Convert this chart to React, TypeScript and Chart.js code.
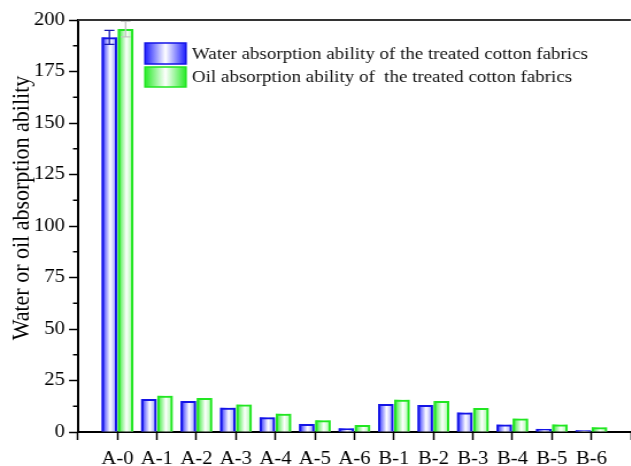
import { useEffect, useRef } from 'react';
import { Chart, registerables } from 'chart.js';

Chart.register(...registerables);

// Sample names along the x axis
const categories = ['A-0', 'A-1', 'A-2', 'A-3', 'A-4', 'A-5', 'A-6', 'B-1', 'B-2', 'B-3', 'B-4', 'B-5', 'B-6'];

// Absorption ability of each treated fabric
const waterValues = [191.6, 16.0, 15.0, 11.8, 7.1, 3.9, 1.8, 13.6, 13.1, 9.5, 3.6, 1.5, 0.8];
const oilValues = [195.6, 17.6, 16.5, 13.3, 8.9, 5.7, 3.4, 15.7, 15.0, 11.6, 6.5, 3.7, 2.3];

// Standard deviations (only the untreated sample shows a visible spread)
const waterErrors = [3.4, 0, 0, 0, 0, 0, 0, 0, 0, 0, 0, 0, 0];
const oilErrors = [3.8, 0, 0, 0, 0, 0, 0, 0, 0, 0, 0, 0, 0];

const seriesLabels = [
  'Water absorption ability of the treated cotton fabrics',
  'Oil absorption ability of  the treated cotton fabrics',
];
const yAxisTitle = 'Water or oil absorption ability';
const yMin = 0;
const yMax = 200;
const yStep = 25;

const SERIF = '"Liberation Serif", "Times New Roman", serif';

// The figure is drawn on a narrower canvas and widened by CSS,
// which gives the horizontally stretched look of the printed figure.
const STRETCH = 1.15;
const VIEW_W = 640;
const VIEW_H = 466;
const CANVAS_W = Math.round(VIEW_W / STRETCH);
const sx = (v: number) => (v * CANVAS_W) / VIEW_W;

const seriesStyles = [
  { edge: 'rgb(30,30,255)', far: 'rgb(140,140,255)', border: '#1414e6', err: '#1a1ab0' },
  { edge: 'rgb(40,235,40)', far: 'rgb(150,250,150)', border: '#22e622', err: '#c4c4c4' },
];

const errorSets = [waterErrors, oilErrors];
const valueSets = [waterValues, oilValues];

const decorPlugin = {
  id: 'decor',
  beforeDatasetsDraw(chart: any) {
    const ctx = chart.ctx;
    chart.data.datasets.forEach((_ds: any, di: number) => {
      const meta = chart.getDatasetMeta(di);
      const st = seriesStyles[di];
      meta.data.forEach((el: any) => {
        const { x, y, base, width } = el.getProps(['x', 'y', 'base', 'width'], true);
        const left = x - width / 2;
        const g = ctx.createLinearGradient(left, 0, left + width, 0);
        g.addColorStop(0, st.edge);
        g.addColorStop(0.55, '#ffffff');
        g.addColorStop(1, st.far);
        ctx.save();
        ctx.fillStyle = g;
        ctx.fillRect(left, Math.min(y, base), width, Math.abs(base - y));
        ctx.restore();
      });
    });
  },
  afterDatasetsDraw(chart: any) {
    const ctx = chart.ctx;
    const yScale = chart.scales.y;
    const cap = sx(5);
    chart.data.datasets.forEach((_ds: any, di: number) => {
      const meta = chart.getDatasetMeta(di);
      const errs = errorSets[di];
      const vals = valueSets[di];
      meta.data.forEach((el: any, i: number) => {
        const e = errs[i];
        if (!e) return;
        const { x } = el.getProps(['x'], true);
        const yTop = yScale.getPixelForValue(vals[i] + e);
        const yBot = yScale.getPixelForValue(vals[i] - e);
        ctx.save();
        ctx.strokeStyle = seriesStyles[di].err;
        ctx.lineWidth = 1.3;
        ctx.beginPath();
        ctx.moveTo(x, yTop);
        ctx.lineTo(x, yBot);
        ctx.moveTo(x - cap, yTop);
        ctx.lineTo(x + cap, yTop);
        ctx.moveTo(x - cap, yBot);
        ctx.lineTo(x + cap, yBot);
        ctx.stroke();
        ctx.restore();
      });
    });
  },
  afterDraw(chart: any) {
    const ctx = chart.ctx;
    const area = chart.chartArea;
    const yScale = chart.scales.y;

    // top frame line
    ctx.save();
    ctx.strokeStyle = '#333333';
    ctx.lineWidth = 2;
    ctx.beginPath();
    ctx.moveTo(area.left, area.top);
    ctx.lineTo(area.right, area.top);
    ctx.stroke();

    // minor ticks on the y axis
    ctx.strokeStyle = '#000000';
    ctx.lineWidth = 1.4;
    ctx.beginPath();
    for (let v = yMin + yStep / 2; v < yMax; v += yStep) {
      const py = yScale.getPixelForValue(v);
      ctx.moveTo(area.left - sx(5), py);
      ctx.lineTo(area.left, py);
    }
    ctx.stroke();

    // y axis title
    ctx.translate(sx(22), 208);
    ctx.rotate(-Math.PI / 2);
    ctx.fillStyle = '#000000';
    ctx.font = `22px ${SERIF}`;
    ctx.textAlign = 'center';
    ctx.textBaseline = 'middle';
    ctx.fillText(yAxisTitle, 0, 0);
    ctx.restore();

    // legend
    const boxes = [
      { top: 43, h: 21 },
      { top: 67, h: 20 },
    ];
    const bx = sx(145);
    const bw = sx(41);
    seriesLabels.forEach((label, i) => {
      const st = seriesStyles[i];
      const b = boxes[i];
      const g = ctx.createLinearGradient(bx, 0, bx + bw, 0);
      g.addColorStop(0, st.edge);
      g.addColorStop(0.5, '#ffffff');
      g.addColorStop(1, st.edge);
      ctx.save();
      ctx.fillStyle = g;
      ctx.fillRect(bx, b.top, bw, b.h);
      ctx.strokeStyle = st.border;
      ctx.lineWidth = 1.5;
      ctx.strokeRect(bx, b.top, bw, b.h);
      ctx.fillStyle = '#111111';
      ctx.font = `16.5px ${SERIF}`;
      ctx.textAlign = 'left';
      ctx.textBaseline = 'middle';
      ctx.fillText(label, sx(192), b.top + b.h / 2 + 1);
      ctx.restore();
    });
  },
};

export default function App() {
  const canvasRef = useRef<HTMLCanvasElement | null>(null);

  useEffect(() => {
    if (!canvasRef.current) return;
    const chart = new Chart(canvasRef.current, {
      type: 'bar',
      data: {
        datasets: [
          {
            label: seriesLabels[0],
            data: waterValues.map((v, i) => ({ x: i, y: v })),
            backgroundColor: 'rgba(0,0,0,0)',
            borderColor: seriesStyles[0].border,
            borderWidth: 2,
            categoryPercentage: 0.82,
            barPercentage: 0.96,
          },
          {
            label: seriesLabels[1],
            data: oilValues.map((v, i) => ({ x: i, y: v })),
            backgroundColor: 'rgba(0,0,0,0)',
            borderColor: seriesStyles[1].border,
            borderWidth: 2,
            categoryPercentage: 0.82,
            barPercentage: 0.96,
          },
        ],
      },
      options: {
        responsive: false,
        animation: false,
        layout: { padding: { top: 20, right: sx(6), left: 0, bottom: 0 } },
        plugins: {
          legend: { display: false },
          title: { display: false },
          tooltip: { enabled: false },
        },
        scales: {
          x: {
            type: 'linear',
            min: -1,
            max: categories.length,
            offset: false,
            ticks: {
              stepSize: 1,
              autoSkip: false,
              maxRotation: 0,
              color: '#000000',
              font: { family: SERIF, size: 18 },
              padding: 8,
              callback: (v: any) => {
                const n = Number(v);
                return Number.isInteger(n) && categories[n] ? categories[n] : '';
              },
            },
            grid: {
              drawOnChartArea: false,
              offset: false,
              tickLength: 8,
              tickColor: '#000000',
              tickWidth: 1.5,
            },
            border: { color: '#000000', width: 2 },
            afterFit: (s: any) => {
              s.height = 34;
            },
          },
          y: {
            min: yMin,
            max: yMax,
            ticks: {
              stepSize: yStep,
              color: '#000000',
              font: { family: SERIF, size: 18 },
              padding: sx(4),
            },
            grid: {
              drawOnChartArea: false,
              tickLength: sx(9),
              tickColor: '#000000',
              tickWidth: 1.5,
            },
            border: { color: '#000000', width: 2 },
            afterFit: (s: any) => {
              s.width = sx(78);
            },
          },
        },
      } as any,
      plugins: [decorPlugin],
    });
    return () => chart.destroy();
  }, []);

  return (
    <div
      style={{
        position: 'fixed',
        top: 0,
        left: 0,
        width: 631,
        height: VIEW_H,
        overflow: 'hidden',
        background: '#ffffff',
      }}
    >
      <canvas
        ref={canvasRef}
        width={CANVAS_W}
        height={VIEW_H}
        style={{ width: VIEW_W, height: VIEW_H, display: 'block' }}
      />
    </div>
  );
}
